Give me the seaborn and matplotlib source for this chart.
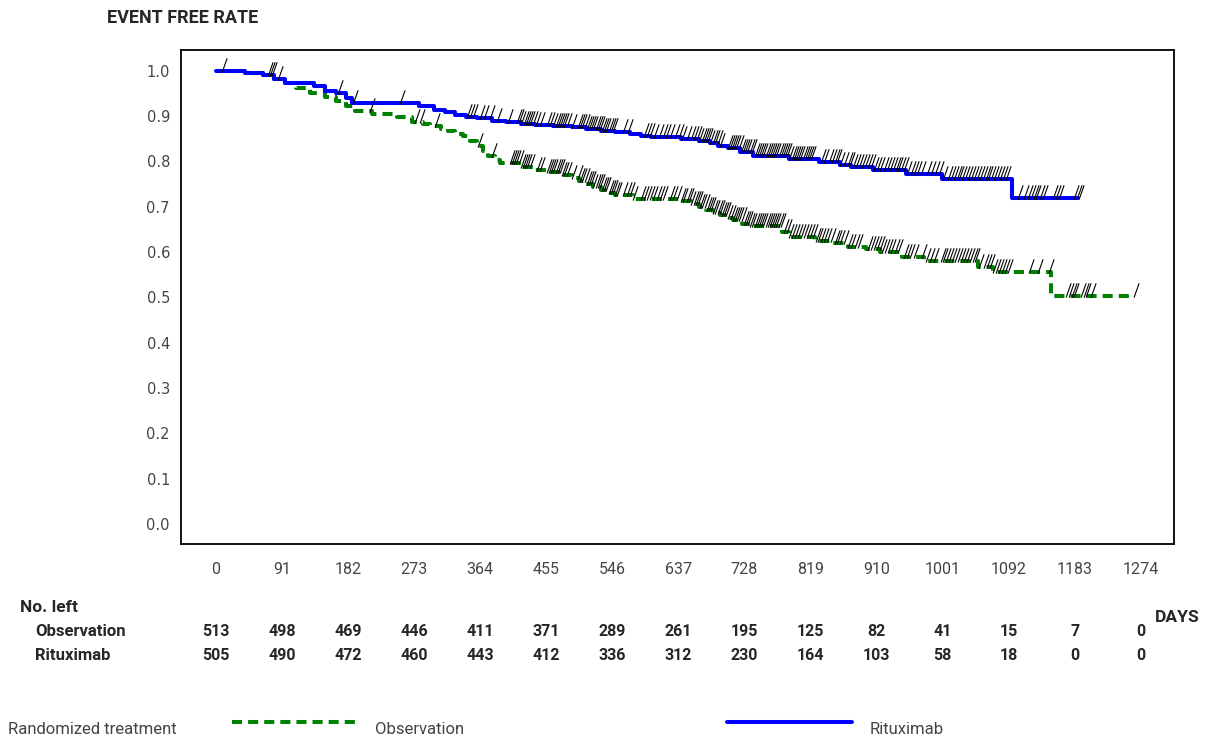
import numpy as np
import pandas as pd
import seaborn as sns
import matplotlib.pyplot as plt
from matplotlib.lines import Line2D
from matplotlib.transforms import blended_transform_factory

# Kaplan-Meier steps (day, event free rate)
obs_days = [0, 40, 65, 80, 95, 110, 130, 150, 165, 180, 192, 215, 250, 270, 285, 295, 310, 320,
            330, 340, 350, 360, 368, 375, 385, 392, 420, 440, 455, 475, 490, 500, 510, 520, 530,
            540, 550, 575, 640, 655, 665, 675, 685, 695, 705, 712, 725, 735, 780, 790, 825, 850,
            870, 895, 915, 945, 975, 1050, 1070, 1150, 1262]
obs_rate = [1.000, 0.995, 0.990, 0.982, 0.972, 0.962, 0.952, 0.942, 0.934, 0.922, 0.912, 0.905,
            0.897, 0.888, 0.882, 0.877, 0.871, 0.866, 0.861, 0.855, 0.845, 0.834, 0.824, 0.813,
            0.804, 0.797, 0.788, 0.782, 0.777, 0.770, 0.763, 0.757, 0.750, 0.744, 0.737, 0.731,
            0.726, 0.718, 0.712, 0.706, 0.700, 0.693, 0.687, 0.681, 0.675, 0.670, 0.663, 0.658,
            0.645, 0.633, 0.625, 0.619, 0.612, 0.606, 0.600, 0.590, 0.580, 0.567, 0.556, 0.503,
            0.503]

rit_days = [0, 40, 65, 80, 95, 135, 150, 165, 180, 188, 280, 300, 315, 330, 345, 360, 380, 400,
            420, 440, 465, 490, 510, 530, 550, 570, 585, 600, 640, 665, 680, 692, 705, 722, 740,
            790, 830, 860, 875, 905, 950, 1000, 1097, 1187]
rit_rate = [1.000, 0.995, 0.990, 0.982, 0.972, 0.966, 0.955, 0.950, 0.940, 0.929, 0.922, 0.913,
            0.908, 0.903, 0.899, 0.895, 0.890, 0.886, 0.883, 0.880, 0.878, 0.875, 0.871, 0.868,
            0.864, 0.860, 0.856, 0.853, 0.850, 0.845, 0.840, 0.835, 0.830, 0.820, 0.812, 0.806,
            0.798, 0.792, 0.787, 0.780, 0.772, 0.762, 0.719, 0.719]

# censoring times (the "/" marks)
obs_cens = [212, 274, 281, 302, 361, 380, 405, 408, 411, 414, 417, 420, 423, 426, 429, 433, 442,
            447, 456, 459, 462, 465, 468, 471, 474, 477, 480, 484, 491, 499, 502, 505, 508, 511,
            514, 517, 520, 523, 526, 529, 532, 535, 538, 541, 544, 547, 550, 553, 561, 566, 571,
            575, 585, 589, 594, 598, 602, 607, 612, 616, 626, 630, 635, 640, 644, 649, 652, 655,
            658, 661, 664, 667, 670, 673, 676, 679, 682, 685, 688, 691, 694, 697, 700, 703, 706,
            709, 712, 715, 718, 721, 724, 727, 730, 733, 736, 739, 742, 745, 748, 751, 754, 757,
            760, 763, 766, 769, 772, 775, 778, 782, 786, 790, 794, 798, 802, 806, 810, 814, 818,
            822, 826, 829, 833, 837, 842, 847, 852, 856, 860, 865, 870, 875, 880, 884, 898, 902,
            906, 910, 914, 918, 922, 926, 930, 935, 939, 947, 952, 956, 961, 973, 978, 983, 989,
            998, 1002, 1006, 1010, 1014, 1018, 1022, 1026, 1030, 1034, 1038, 1042, 1046, 1051,
            1058, 1062, 1066, 1070, 1074, 1078, 1082, 1087, 1091, 1120, 1132, 1147, 1171, 1175,
            1179, 1182, 1191, 1195, 1198, 1205, 1264]
rit_cens = [8, 72, 75, 78, 86, 168, 189, 254, 346, 350, 354, 364, 370, 378, 387, 403, 415, 418,
            421, 424, 427, 430, 433, 437, 441, 447, 456, 460, 465, 468, 471, 474, 477, 480, 484,
            491, 499, 502, 505, 508, 511, 514, 517, 520, 523, 526, 529, 532, 535, 538, 541, 544,
            547, 561, 567, 589, 594, 598, 603, 610, 616, 620, 626, 633, 638, 642, 649, 654, 658,
            663, 666, 669, 672, 675, 678, 681, 684, 687, 691, 695, 705, 708, 711, 714, 717, 720,
            723, 726, 729, 732, 736, 739, 742, 745, 748, 751, 754, 757, 760, 763, 766, 769, 772,
            775, 778, 781, 784, 787, 790, 793, 796, 799, 802, 805, 808, 811, 814, 817, 819, 833,
            837, 844, 848, 852, 856, 860, 865, 870, 874, 878, 882, 886, 890, 894, 898, 902, 906,
            910, 915, 920, 924, 928, 932, 936, 940, 944, 948, 952, 957, 961, 966, 971, 980, 985,
            990, 996, 1002, 1008, 1012, 1016, 1020, 1024, 1028, 1032, 1036, 1040, 1044, 1048,
            1052, 1056, 1060, 1064, 1068, 1072, 1076, 1080, 1084, 1088, 1104, 1113, 1118, 1122,
            1126, 1130, 1135, 1139, 1153, 1157, 1161, 1182, 1186, 1189]

day_ticks = [0, 91, 182, 273, 364, 455, 546, 637, 728, 819, 910, 1001, 1092, 1183, 1274]
obs_left = [513, 498, 469, 446, 411, 371, 289, 261, 195, 125, 82, 41, 15, 7, 0]
rit_left = [505, 490, 472, 460, 443, 412, 336, 312, 230, 164, 103, 58, 18, 0, 0]

GREEN = "#008000"
BLUE = "#0000ff"
NARROW = ["Roboto", "DejaVu Sans"]

sns.set_style("white")
plt.rcParams["font.family"] = ["DejaVu Sans"]

df = pd.concat([
    pd.DataFrame({"day": obs_days, "rate": obs_rate, "group": "Observation"}),
    pd.DataFrame({"day": rit_days, "rate": rit_rate, "group": "Rituximab"}),
])

fig = plt.figure(figsize=(12.06, 7.39), dpi=100)
ax = fig.add_axes([0.1501, 0.2639, 0.8234, 0.6684])

sns.lineplot(data=df, x="day", y="rate", hue="group", style="group",
             hue_order=["Observation", "Rituximab"], style_order=["Observation", "Rituximab"],
             palette={"Observation": GREEN, "Rituximab": BLUE},
             dashes={"Observation": (2.5, 1.5), "Rituximab": ""},
             estimator=None, drawstyle="steps-post", linewidth=2.9, legend=False, ax=ax)


def step_value(days, rate, t):
    idx = np.searchsorted(days, t, side="right") - 1
    return np.asarray(rate)[idx]


slash = [(-0.03, -0.08), (0.35, 1.0)]
for cens, days, rate in [(obs_cens, obs_days, obs_rate), (rit_cens, rit_days, rit_rate)]:
    ax.plot(cens, step_value(days, rate, cens), linestyle="none", marker=slash,
            markersize=19, markeredgewidth=0.8, color="black", zorder=4)

ax.set_xlim(-47.8, 1319.5)
ax.set_ylim(-0.044, 1.0457)
ax.set_xticks(day_ticks)
ax.set_yticks(np.arange(0, 1.01, 0.1))
ax.set_yticklabels([f"{v:.1f}" for v in np.arange(0, 1.01, 0.1)])
ax.set_xlabel("")
ax.set_ylabel("")
for s in ax.spines.values():
    s.set_visible(True)
    s.set_color("black")
    s.set_linewidth(1.3)
ax.tick_params(axis="both", direction="out", length=5, width=1, color="#333333")
ax.tick_params(axis="y", pad=3, labelsize=10.5, labelcolor="#444444")
ax.tick_params(axis="x", pad=8, labelsize=11.5, labelcolor="#444444")
for lab in ax.get_xticklabels():
    lab.set_family(NARROW)

fig.text(107 / 1206, 1 - 18 / 739, "EVENT FREE RATE", family=NARROW, fontweight="bold",
         fontsize=13, va="center", ha="left")

# number at risk table
tr = blended_transform_factory(ax.transData, fig.transFigure)
fig.text(20 / 1206, 1 - 608 / 739, "No. left", family=NARROW, fontweight="bold", fontsize=12.5,
         va="center")
fig.text(35 / 1206, 1 - 632 / 739, "Observation", family=NARROW, fontweight="bold", fontsize=12,
         va="center")
fig.text(35 / 1206, 1 - 656 / 739, "Rituximab", family=NARROW, fontweight="bold", fontsize=12,
         va="center")
for d, o, r in zip(day_ticks, obs_left, rit_left):
    ax.text(d, 1 - 632 / 739, str(o), transform=tr, ha="center", va="center",
            family=NARROW, fontweight="bold", fontsize=11.5)
    ax.text(d, 1 - 656 / 739, str(r), transform=tr, ha="center", va="center",
            family=NARROW, fontweight="bold", fontsize=11.5)
fig.text(1155 / 1206, 1 - 617 / 739, "DAYS", family=NARROW, fontweight="bold", fontsize=12.5,
         va="center")

# legend row
ly = 1 - 722 / 739
ty = 1 - 730 / 739
fig.text(8 / 1206, ty, "Randomized treatment", family=NARROW, fontsize=12, color="#444444",
         va="center")
fig.add_artist(Line2D([232 / 1206, 355 / 1206], [ly, ly], color=GREEN, linewidth=2.9,
                      dashes=(2.5, 1.5), transform=fig.transFigure))
fig.text(375 / 1206, ty, "Observation", family=NARROW, fontsize=12, color="#444444", va="center")
fig.add_artist(Line2D([727 / 1206, 852 / 1206], [ly, ly], color=BLUE, linewidth=2.9,
                      transform=fig.transFigure))
fig.text(870 / 1206, ty, "Rituximab", family=NARROW, fontsize=12, color="#444444", va="center")

fig.savefig("out.png", dpi=100)
